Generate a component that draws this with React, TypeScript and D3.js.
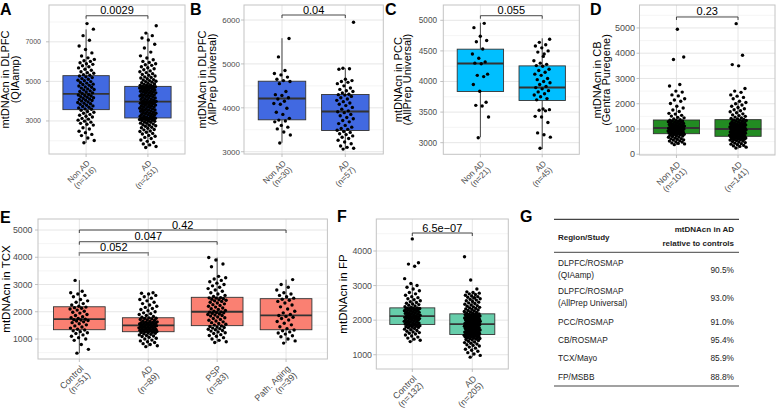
import React from "react";
import * as d3 from "d3";

// ---------- data ----------
const catsAD = ["Non AD", "AD"];
const catsTCX = ["Control", "AD", "PSP", "Path. Aging"];
const catsFP = ["Control", "AD"];

const nA = ["(n=116)", "(n=251)"];
const nB = ["(n=30)", "(n=57)"];
const nC = ["(n=21)", "(n=45)"];
const nD = ["(n=101)", "(n=141)"];
const nE = ["(n=51)", "(n=89)", "(n=83)", "(n=39)"];
const nF = ["(n=132)", "(n=205)"];

// box stats: [lower whisker, q1, median, q3, upper whisker]
const boxA = [[1886, 3572, 4367, 5289, 7628], [1700, 3152, 3977, 4747, 7440]];
const boxB = [[3205, 3727, 4212, 4606, 5585], [3060, 3483, 3916, 4303, 4902]];
const boxC = [[3088, 3837, 4294, 4528, 4961], [2896, 3690, 3902, 4255, 4706]];
const boxD = [[370, 814, 1040, 1356, 1840], [200, 710, 1000, 1370, 2100]];
const boxE = [[480, 1341, 1732, 2183, 3160], [720, 1268, 1500, 1780, 2700], [870, 1490, 2000, 2530, 3990], [850, 1340, 1870, 2480, 3180]];
const boxF = [[1375, 1876, 2116, 2355, 3060], [930, 1586, 1884, 2182, 2818]];

const ptsA_nonAD = [1900,2010,2140,2260,2320,2410,2480,2590,2660,2790,2830,2880,2940,2990,3040,3090,3130,3200,3240,3290,3330,3390,3440,3480,3540,
3590,3610,3660,3690,3730,3760,3790,3840,3870,3890,3930,3960,4000,4030,4050,4090,4110,4140,4170,4200,4230,4260,4290,4310,4340,
4390,4420,4460,4490,4520,4570,4590,4620,4660,4700,4720,4770,4800,4840,4860,4910,4940,4990,5030,5060,5110,5140,5190,5230,5270,
5310,5340,5410,5440,5490,5560,5610,5680,5740,5790,5860,5890,5940,6010,6040,6110,6190,6280,6440,6610,6790,7080,7310,7640,7920];
const ptsA_AD = [1660,1710,1790,1840,1910,1970,2040,2110,2170,2230,2270,2340,2370,2430,2470,2490,2550,2570,2630,2660,2680,2730,2760,2780,2810,2840,2880,2890,2930,2940,2980,2990,3020,3030,3040,3070,3080,3090,3100,3110,3120,3130,3135,3140,3150,
3160,3190,3200,3240,3250,3260,3290,3320,3330,3340,3380,3390,3400,3430,3440,3470,3490,3500,3540,3550,3560,3580,3610,3620,3640,3680,3690,3700,3720,3740,3770,3790,3800,3820,3840,3870,3880,3900,3910,3920,3930,3940,3950,3960,3970,
3990,4000,4020,4060,4080,4090,4100,4120,4160,4180,4190,4220,4240,4260,4280,4300,4320,4330,4340,4380,4400,4420,4430,4460,4480,4490,4500,4520,4540,4570,4580,4600,4620,4640,4660,4670,4680,4690,4700,4710,4715,4720,4730,4740,4745,
4760,4790,4800,4820,4850,4870,4900,4930,4960,4990,5010,5040,5070,5090,5130,5170,5200,5230,5270,5310,5350,5390,5440,5490,5530,5590,5640,5690,5740,5810,5840,5890,5960,6010,6090,6180,6290,6480,6690,6880,7090,7190,7310,7440,7810];

const ptsB_nonAD = [3200,3380,3450,3520,3560,3600,3680,3700,3720,3760,3850,3900,3990,4080,4100,4150,4200,4230,4280,4300,4370,4550,4600,4620,4650,4700,4750,4780,4850,5160,5580];
const ptsB_AD = [3060,3080,3100,3130,3180,3220,3260,3300,3330,3360,3390,3410,3440,3460,
3490,3510,3530,3560,3600,3640,3680,3710,3750,3780,3820,3850,3890,3910,
3930,3970,4010,4050,4080,4110,4140,4170,4200,4230,4260,4290,4300,4310,
4340,4370,4390,4420,4450,4500,4550,4580,4600,4620,4650,4880,4890,4900,5950];

const ptsC_nonAD = [3080,3420,3600,3610,3660,3840,3950,4080,4100,4120,4290,4300,4320,4380,4450,4530,4650,4670,4740,4880,4950];
const ptsC_AD = [2910,3090,3130,3160,3330,3420,3430,3520,3530,3540,3550,3700,3720,3750,3780,3800,3830,3850,3880,3900,3920,3950,3980,4000,4030,4050,4100,4120,4150,4180,4200,4250,4260,4280,4300,4340,4450,4480,4500,4550,4580,4600,4640,4690,4410];

const ptsD_nonAD = [380,410,430,450,480,490,520,530,560,570,590,610,620,640,670,680,700,720,730,750,770,780,790,800,810,
820,830,845,850,865,870,880,895,900,915,920,935,940,950,965,970,985,990,1000,1010,1015,1020,1025,1030,1035,
1050,1065,1070,1085,1090,1100,1115,1120,1140,1150,1165,1180,1190,1200,1215,1230,1245,1260,1270,1290,1300,1315,1320,1340,1350,
1370,1400,1440,1460,1510,1540,1590,1620,1690,1750,1830,1900,2010,2100,2150,2200,2310,2350,2460,2500,2700,2760,3750,3850,4950];
const ptsD_AD = [250,280,310,330,350,380,400,420,440,460,480,500,520,540,560,570,580,590,600,610,620,630,640,650,660,670,680,690,695,700,705,
715,725,735,745,755,765,775,785,795,805,815,825,835,845,855,865,875,885,895,905,915,925,935,945,955,965,975,980,985,990,995,
1010,1020,1030,1040,1050,1060,1070,1080,1090,1100,1110,1120,1130,1140,1150,1160,1170,1180,1190,1200,1210,1220,1240,1250,1270,1290,1300,1320,1340,1350,1360,
1380,1400,1420,1440,1470,1500,1530,1560,1600,1640,1680,1720,1760,1800,1850,1900,1950,2000,2050,2100,2200,2250,2300,2350,2450,2500,2600,3500,3550,3920,5170];

const ptsE_control = [480,620,800,950,1000,1050,1100,1150,1200,1230,1270,1300,1330,
1360,1400,1440,1480,1520,1560,1600,1630,1660,1680,1700,1710,1725,
1750,1780,1820,1860,1900,1950,1980,2020,2060,2100,2130,2150,2170,
2200,2250,2300,2350,2400,2450,2550,2600,2650,2700,2750,3150];
const ptsE_AD = [720,750,800,830,870,900,930,960,1000,1030,1060,1090,1110,1130,1150,1170,1190,1210,1230,1240,1250,1260,
1275,1285,1295,1305,1315,1325,1335,1345,1355,1365,1375,1385,1395,1410,1420,1430,1440,1450,1460,1470,1480,1490,
1510,1520,1530,1540,1550,1560,1570,1580,1590,1600,1610,1620,1630,1640,1660,1680,1700,1720,1740,1750,1760,1775,
1800,1830,1860,1900,1930,1960,2000,2040,2080,2120,2160,2200,2250,2300,2350,2400,2450,2500,2550,2600,2650,2680,2700];
const ptsE_PSP = [870,900,950,1000,1050,1100,1130,1160,1200,1230,1260,1290,1310,1340,1360,1380,1400,1420,1440,1460,1480,
1510,1540,1570,1600,1630,1660,1690,1720,1750,1780,1810,1840,1860,1880,1900,1920,1940,1960,1975,1985,1995,
2020,2050,2080,2110,2140,2170,2200,2230,2260,2290,2320,2350,2380,2400,2420,2440,2460,2480,2500,2510,2520,
2560,2600,2650,2700,2750,2800,2850,2900,2950,3000,3050,3100,3150,3200,3250,3300,3650,3750,3900,3990];
const ptsE_aging = [850,930,1000,1080,1120,1180,1220,1260,1300,1330,
1380,1450,1520,1580,1640,1700,1750,1800,1830,1860,
1900,1960,2020,2100,2180,2250,2320,2380,2420,2460,
2500,2550,2600,2650,2700,2800,2900,3000,3180];

const ptsF_control = [1380,1420,1450,1480,1510,1540,1570,1600,1620,1640,1660,1680,1700,1720,1740,1760,1780,1790,1800,1810,1820,1830,1840,1850,1860,1865,1870,
1885,1895,1905,1915,1925,1935,1945,1955,1965,1975,1985,1995,2005,2015,2025,2035,2045,2055,2065,2070,2075,2080,2085,2090,2095,2100,2110,
2125,2135,2145,2155,2165,2175,2185,2195,2205,2215,2225,2235,2245,2255,2265,2275,2285,2295,2305,2315,2320,2325,2330,2335,2340,2345,2350,
2370,2390,2410,2430,2450,2470,2490,2510,2530,2560,2590,2620,2650,2680,2720,2760,2800,2850,2900,2950,3000,3060,3200,3560,3620,3660,4350];
const ptsF_AD = [930,980,1020,1060,1100,1130,1160,1190,1220,1250,1270,1290,1310,1330,1350,1370,1390,1410,1430,1440,1450,1460,1470,1480,1490,1500,1510,1520,1530,1535,1540,1545,1550,1555,1560,1565,1570,1575,1580,1585,
1590,1598,1606,1614,1622,1630,1638,1646,1654,1662,1670,1678,1686,1694,1702,1710,1718,1726,1734,1742,1750,1758,1766,1774,1782,1790,1798,1806,1814,1822,1830,1838,1846,1854,1862,1868,1872,1876,1880,1883,
1890,1897,1905,1912,1920,1928,1935,1943,1950,1958,1965,1973,1980,1988,1995,2003,2010,2018,2025,2033,2040,2048,2055,2063,2070,2078,2085,2093,2100,2108,2115,2123,2130,2138,2145,2153,2160,2166,2172,2178,
2190,2205,2220,2235,2250,2265,2280,2295,2310,2325,2340,2355,2370,2385,2400,2420,2440,2460,2480,2500,2520,2540,2560,2580,2600,2620,2640,2660,2680,2700,2720,2740,2760,2780,2800,2818,2900,3160,3835,2650];

// significance labels and bracket heights (data units)
const sigA = [{ a: 0, b: 1, y: 8316, label: "0.0029" }];
const sigB = [{ a: 0, b: 1, y: 6114, label: "0.04" }];
const sigC = [{ a: 0, b: 1, y: 5075, label: "0.055" }];
const sigD = [{ a: 0, b: 1, y: 5435, label: "0.23" }];
const sigE = [
  { a: 0, b: 3, y: 5000, label: "0.42" },
  { a: 0, b: 2, y: 4570, label: "0.047" },
  { a: 0, b: 1, y: 4165, label: "0.052", gray: true },
];
const sigF = [{ a: 0, b: 1, y: 4520, label: "6.5e\u221207" }];

// table G
const tableRegion = ["DLPFC/ROSMAP", "DLPFC/ROSMAP", "PCC/ROSMAP", "CB/ROSMAP", "TCX/Mayo", "FP/MSBB"];
const tableMethod = ["(QIAamp)", "(AllPrep Universal)", "", "", "", ""];
const tableRatio = ["90.5%", "93.0%", "91.0%", "95.4%", "85.9%", "88.8%"];

// ---------- drawing ----------
const FONT = "'Liberation Sans', Arial, Helvetica, sans-serif";

function Panel({ c }: { c: any }) {
  const labels = c.cats;
  const x = d3.scalePoint<string>().domain(labels).range([c.left, c.right]).padding(0.6);
  const step = x.step();
  const y = d3.scaleLinear().domain(c.domain).range([c.bottom, c.top]);
  const bw = step * 0.75;
  const jit = (i: number) => ((((i * 0.6180339887 + 0.37) % 1) - 0.5) * 2 * 0.135 * step);
  const cy = (c.top + c.bottom) / 2;

  return (
    <g fontFamily={FONT}>
      <rect x={c.left} y={c.top} width={c.right - c.left} height={c.bottom - c.top} fill="#fff" />
      {c.minor.map((t: number) => (
        <line key={"m" + t} x1={c.left} x2={c.right} y1={y(t)} y2={y(t)} stroke="#EFEFEF" strokeWidth={0.6} />
      ))}
      {c.ticks.map((t: number) => (
        <line key={"g" + t} x1={c.left} x2={c.right} y1={y(t)} y2={y(t)} stroke="#E0E0E0" strokeWidth={0.8} />
      ))}
      {labels.map((l: string) => (
        <line key={"v" + l} x1={x(l)} x2={x(l)} y1={c.top} y2={c.bottom} stroke="#E0E0E0" strokeWidth={0.8} />
      ))}
      {labels.map((l: string, i: number) => {
        const [lo, q1, md, q3, hi] = c.box[i];
        const cx = x(l) as number;
        return (
          <g key={"b" + l}>
            <line x1={cx} x2={cx} y1={y(hi)} y2={y(q3)} stroke="#333" strokeWidth={0.9} />
            <line x1={cx} x2={cx} y1={y(q1)} y2={y(lo)} stroke="#333" strokeWidth={0.9} />
            <rect x={cx - bw / 2} y={y(q3)} width={bw} height={y(q1) - y(q3)} fill={c.fill} stroke="#333" strokeWidth={0.9} />
            <line x1={cx - bw / 2} x2={cx + bw / 2} y1={y(md)} y2={y(md)} stroke="#333" strokeWidth={1.8} />
          </g>
        );
      })}
      {labels.map((l: string, i: number) => (
        <g key={"p" + l}>
          {c.pts[i].map((v: number, j: number) => (
            <circle key={j} cx={(x(l) as number) + jit(j)} cy={y(v)} r={1.7} fill="#000" />
          ))}
        </g>
      ))}
      <rect x={c.left} y={c.top} width={c.right - c.left} height={c.bottom - c.top} fill="none" stroke="#C4C4C4" strokeWidth={1} />
      {c.ticks.map((t: number) => (
        <g key={"t" + t}>
          <line x1={c.left - 3} x2={c.left} y1={y(t)} y2={y(t)} stroke="#B3B3B3" strokeWidth={0.8} />
          <text x={c.labelRight} y={y(t)} dy="0.35em" textAnchor="end" fontSize={c.tickFs} fill="#4D4D4D">{t}</text>
        </g>
      ))}
      {labels.map((l: string, i: number) => (
        <g key={"x" + l}>
          <line x1={x(l)} x2={x(l)} y1={c.bottom} y2={c.bottom + 3} stroke="#B3B3B3" strokeWidth={0.8} />
          <g transform={`translate(${x(l)},${c.bottom + 5.5}) rotate(-45)`}>
            <text x={0} y={c.xFs * 0.75} textAnchor="end" fontSize={c.xFs} fill="#4D4D4D">{l}</text>
            <text x={0} y={c.xFs * 0.75 + c.xFs * 1.05} textAnchor="end" fontSize={c.xFs} fill="#4D4D4D">{c.ns[i]}</text>
          </g>
        </g>
      ))}
      {c.title.map((t: string, i: number) => (
        <text key={"ti" + i} transform={`translate(${c.titleX[i]},${cy}) rotate(-90)`} textAnchor="middle" fontSize={c.titleFs} fill="#000">{t}</text>
      ))}
      {c.sigs.map((s: any, i: number) => {
        const x1 = x(labels[s.a]) as number;
        const x2 = x(labels[s.b]) as number;
        const yy = y(s.y);
        const col = s.gray ? "#8A8A8A" : "#333";
        return (
          <g key={"s" + i}>
            <path d={`M${x1},${yy + 3}V${yy}H${x2}V${yy + 3}`} fill="none" stroke={col} strokeWidth={s.gray ? 1.4 : 0.9} />
            <text x={(x1 + x2) / 2} y={yy - 1.5} textAnchor="middle" fontSize={11} fill="#000">{s.label}</text>
          </g>
        );
      })}
      <text x={c.lx} y={c.ly} fontSize={16} fontWeight="bold" fill="#000">{c.letter}</text>
    </g>
  );
}

const panels = [
  { letter: "A", lx: 0, ly: 14.6, left: 49, right: 185, top: 5, bottom: 154, domain: [1330, 8860], ticks: [3000, 5000, 7000], minor: [2000, 4000, 6000, 8000],
    tickFs: 7, xFs: 8, titleFs: 11, labelRight: 41, title: ["mtDNAcn in DLPFC", "(QIAamp)"], titleX: [9.3, 18.5], fill: "#4169E1",
    cats: catsAD, ns: nA, box: boxA, pts: [ptsA_nonAD, ptsA_AD], sigs: sigA },
  { letter: "B", lx: 190, ly: 14.6, left: 244, right: 383.3, top: 5, bottom: 154, domain: [2948, 6342], ticks: [3000, 4000, 5000, 6000], minor: [3500, 4500, 5500],
    tickFs: 8, xFs: 8.3, titleFs: 11, labelRight: 240, title: ["mtDNAcn in DLPFC", "(AllPrep Universal)"], titleX: [206, 215.5], fill: "#4169E1",
    cats: catsAD, ns: nB, box: boxB, pts: [ptsB_nonAD, ptsB_AD], sigs: sigB },
  { letter: "C", lx: 385, ly: 14.6, left: 443.3, right: 579.3, top: 5, bottom: 154.3, domain: [2810, 5250], ticks: [3000, 3500, 4000, 4500, 5000], minor: [3250, 3750, 4250, 4750],
    tickFs: 8.2, xFs: 8.3, titleFs: 11, labelRight: 437, title: ["mtDNAcn in PCC", "(AllPrep Universal)"], titleX: [401.5, 411], fill: "#00BFFF",
    cats: catsAD, ns: nC, box: boxC, pts: [ptsC_nonAD, ptsC_AD], sigs: sigC },
  { letter: "D", lx: 590, ly: 14.6, left: 639.5, right: 775, top: 5, bottom: 155, domain: [-30, 5909], ticks: [0, 1000, 2000, 3000, 4000, 5000], minor: [500, 1500, 2500, 3500, 4500, 5500],
    tickFs: 9, xFs: 8.6, titleFs: 11, labelRight: 635, title: ["mtDNAcn in CB", "(Gentra Puregene)"], titleX: [600.5, 610], fill: "#228B22",
    cats: catsAD, ns: nD, box: boxD, pts: [ptsD_nonAD, ptsD_AD], sigs: sigD },
  { letter: "E", lx: 0, ly: 223, left: 38, right: 327.4, top: 219, bottom: 359, domain: [266, 5404], ticks: [1000, 2000, 3000, 4000, 5000], minor: [500, 1500, 2500, 3500, 4500],
    tickFs: 8.8, xFs: 9, titleFs: 11.5, labelRight: 32.5, title: ["mtDNAcn in TCX"], titleX: [9.5], fill: "#FA8072",
    cats: catsTCX, ns: nE, box: boxE, pts: [ptsE_control, ptsE_AD, ptsE_PSP, ptsE_aging], sigs: sigE },
  { letter: "F", lx: 337, ly: 222, left: 376.3, right: 508.3, top: 219, bottom: 369, domain: [587, 4925], ticks: [1000, 2000, 3000, 4000], minor: [1500, 2500, 3500, 4500],
    tickFs: 8.8, xFs: 9, titleFs: 11.5, labelRight: 372, title: ["mtDNAcn in FP"], titleX: [347], fill: "#66CDAA",
    cats: catsFP, ns: nF, box: boxF, pts: [ptsF_control, ptsF_AD], sigs: sigF },
];

function Table() {
  const left = 558, right = 734;
  const rowMid = [269.2, 297.2, 321.7, 340, 358.3, 376.7];
  const fs = 8.3;
  return (
    <g fontFamily={FONT} fontSize={fs} fill="#222">
      <text x={520} y={222} fontSize={16} fontWeight="bold" fill="#000">G</text>
      <line x1={554} x2={739} y1={219.3} y2={219.3} stroke="#444" strokeWidth={1.3} />
      <text x={left} y={240} fontWeight="bold" fontSize={8}>Region/Study</text>
      <text x={right} y={232} textAnchor="end" fontWeight="bold" fontSize={8}>mtDNAcn in AD</text>
      <text x={right} y={246} textAnchor="end" fontWeight="bold" fontSize={8}>relative to controls</text>
      <line x1={554} x2={739} y1={252.3} y2={252.3} stroke="#444" strokeWidth={1} />
      {tableRegion.map((r, i) => {
        const m = rowMid[i];
        const two = tableMethod[i] !== "";
        return (
          <g key={i}>
            <text x={left} y={(two ? m - 5.8 : m) + 3}>{r}</text>
            {two && <text x={left} y={m + 5.8 + 3}>{tableMethod[i]}</text>}
            <text x={right} y={m + (two ? 1 : 0) + 3} textAnchor="end">{tableRatio[i]}</text>
          </g>
        );
      })}
      <line x1={554} x2={739} y1={386} y2={386} stroke="#444" strokeWidth={1.1} />
    </g>
  );
}

export default function App() {
  return (
    <svg width={776} height={408} style={{ position: "absolute", left: 0, top: 0, background: "#fff" }}>
      <rect width={776} height={408} fill="#fff" />
      {panels.map((p) => (
        <Panel key={p.letter} c={p} />
      ))}
      <Table />
    </svg>
  );
}
